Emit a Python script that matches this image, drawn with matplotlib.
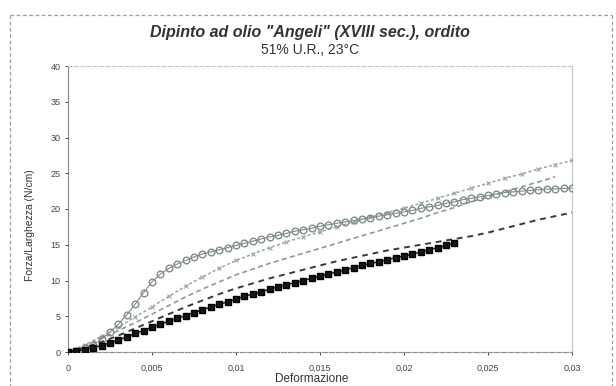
import numpy as np
import matplotlib
matplotlib.use("Agg")
import matplotlib.pyplot as plt
from matplotlib.lines import Line2D

# ---- data ----
x_fine = np.round(np.linspace(0, 0.030, 61), 4)     # 0.0005 strain steps
x_coarse = np.round(np.linspace(0, 0.030, 31), 3)   # 0.001 strain steps

serie_cerchi = [0, 0.2, 0.5, 1.0, 1.8, 2.8, 3.9, 5.2, 6.7, 8.3, 9.8, 10.9, 11.7, 12.3, 12.8,
                13.3, 13.7, 14.0, 14.3, 14.6, 14.9,
                15.2, 15.5, 15.8, 16.1, 16.3, 16.6, 16.9, 17.1, 17.3, 17.6,
                17.8, 18.0, 18.2, 18.4, 18.6, 18.8, 19.0, 19.2, 19.4, 19.6,
                19.8, 20.1, 20.3, 20.5, 20.8, 21.0, 21.3, 21.5, 21.7, 21.9,
                22.1, 22.3, 22.4, 22.5, 22.6, 22.7, 22.8, 22.8, 22.9, 22.9]

serie_alta = [0, 1.0, 2.2, 3.5, 4.9, 6.3, 7.8, 9.2, 10.5, 11.7, 12.8, 13.7, 14.6, 15.4, 16.1,
              16.8, 17.5, 18.2, 18.9, 19.5, 20.1, 20.8, 21.5, 22.2, 22.9, 23.6, 24.3, 24.9,
              25.6, 26.2, 26.8]

serie_grigia = [0, 0.9, 1.9, 3.0, 4.1, 5.3, 6.5, 7.7, 8.8, 9.8, 10.8, 11.6, 12.4, 13.1, 13.8,
                14.5, 15.2, 15.9, 16.6, 17.3, 18.0, 18.7, 19.5, 20.2, 21.0, 21.7, 22.4, 23.1,
                23.8, 24.5]

serie_scura = [0, 0.6, 1.4, 2.3, 3.3, 4.3, 5.3, 6.3, 7.2, 8.1, 8.9, 9.6, 10.3, 10.9, 11.5,
               12.1, 12.7, 13.2, 13.7, 14.2, 14.6, 15.0, 15.4, 15.8, 16.2, 16.7, 17.3, 17.9,
               18.5, 19.0, 19.5]

serie_nera = [0, 0.1, 0.3, 0.6, 0.9, 1.3, 1.7, 2.1, 2.6, 3.0, 3.5, 3.9, 4.3, 4.7, 5.1, 5.5,
              5.9, 6.3, 6.7, 7.0, 7.4,
              7.8, 8.1, 8.4, 8.8, 9.1, 9.4, 9.7, 10.0, 10.3, 10.6,
              10.9, 11.2, 11.5, 11.8, 12.1, 12.4, 12.6, 12.9, 13.2, 13.4,
              13.7, 14.0, 14.3, 14.6, 14.9, 15.2]

x_ticks = [0, 0.005, 0.01, 0.015, 0.02, 0.025, 0.03]
x_ticklabels = ["0", "0,005", "0,01", "0,015", "0,02", "0,025", "0,03"]
y_ticks = [0, 5, 10, 15, 20, 25, 30, 35, 40]

titolo = 'Dipinto ad olio "Angeli" (XVIII sec.), ordito'
sottotitolo = "51% U.R., 23°C"
etichetta_y = "Forza/Larghezza (N/cm)"
etichetta_x = "Deformazione"

# ---- figure ----
plt.rcParams['font.family'] = ['Liberation Sans', 'DejaVu Sans']
fig = plt.figure(figsize=(6.16, 3.86), dpi=100)
ax = fig.add_axes([68/616, 1-352/386, (572-68)/616, (352-66)/386])

ax.plot(x_coarse, serie_alta, color='#9aa6a3', lw=1.1, linestyle=(0, (2, 1.5)),
        marker='x', markersize=2.8, markeredgewidth=0.8, zorder=3)
ax.plot(x_coarse[:len(serie_grigia)], serie_grigia, color='#8f9a97', lw=1.2,
        linestyle=(0, (3, 2)), zorder=3)
ax.plot(x_fine, serie_cerchi, color='#7f8c89', lw=0.8, marker='o', markersize=4.8,
        markerfacecolor='none', markeredgewidth=1.0, zorder=4)
ax.plot(x_coarse, serie_scura, color='#3a3a30', lw=1.4, linestyle=(0, (3, 2.5)), zorder=4)
ax.plot(x_fine[:len(serie_nera)], serie_nera, color='#111111', lw=1.0, marker='s',
        markersize=4.4, markerfacecolor='#151515', markeredgecolor='#000000', zorder=5)

ax.set_xlim(0, 0.03)
ax.set_ylim(0, 40)
ax.set_xticks(x_ticks)
ax.set_xticklabels(x_ticklabels)
ax.set_yticks(y_ticks)
ax.tick_params(axis='both', labelsize=6.5, colors='#444444', length=2.5, width=0.7,
               direction='out')
ax.tick_params(axis='x', pad=6)
ax.tick_params(axis='y', pad=3)

for s in ['left', 'bottom']:
    ax.spines[s].set_color('#8a9290')
    ax.spines[s].set_linewidth(0.9)
for s in ['top', 'right']:
    ax.spines[s].set_color('#c4ccca')
    ax.spines[s].set_linewidth(0.9)
ax.spines['top'].set_linestyle((0, (3, 2)))
ax.spines['bottom'].set_linestyle((0, (4, 1.5)))

fig.text(310/616, 1-32/386, titolo, ha='center', va='center', fontsize=11.5,
         fontstyle='italic', fontweight='bold', color='#333333')
fig.text(310/616, 1-50/386, sottotitolo, ha='center', va='center', fontsize=10,
         color='#333333')
fig.text(30/616, 1-225/386, etichetta_y, rotation=90, ha='center', va='center',
         fontsize=7.5, color='#333333')
fig.text(312/616, 1.5/386, etichetta_x, ha='center', va='bottom', fontsize=8.5,
         color='#333333')

# outer dashed chart frame
frame_kw = dict(color='#9aa2a0', lw=0.9, linestyle=(0, (3, 2)), transform=fig.transFigure)
fig.add_artist(Line2D([10/616, 612/616], [1-15/386, 1-15/386], **frame_kw))
fig.add_artist(Line2D([10/616, 10/616], [1-15/386, 0], **frame_kw))
fig.add_artist(Line2D([612/616, 612/616], [1-15/386, 0], **frame_kw))

fig.savefig("out.png", dpi=100)
